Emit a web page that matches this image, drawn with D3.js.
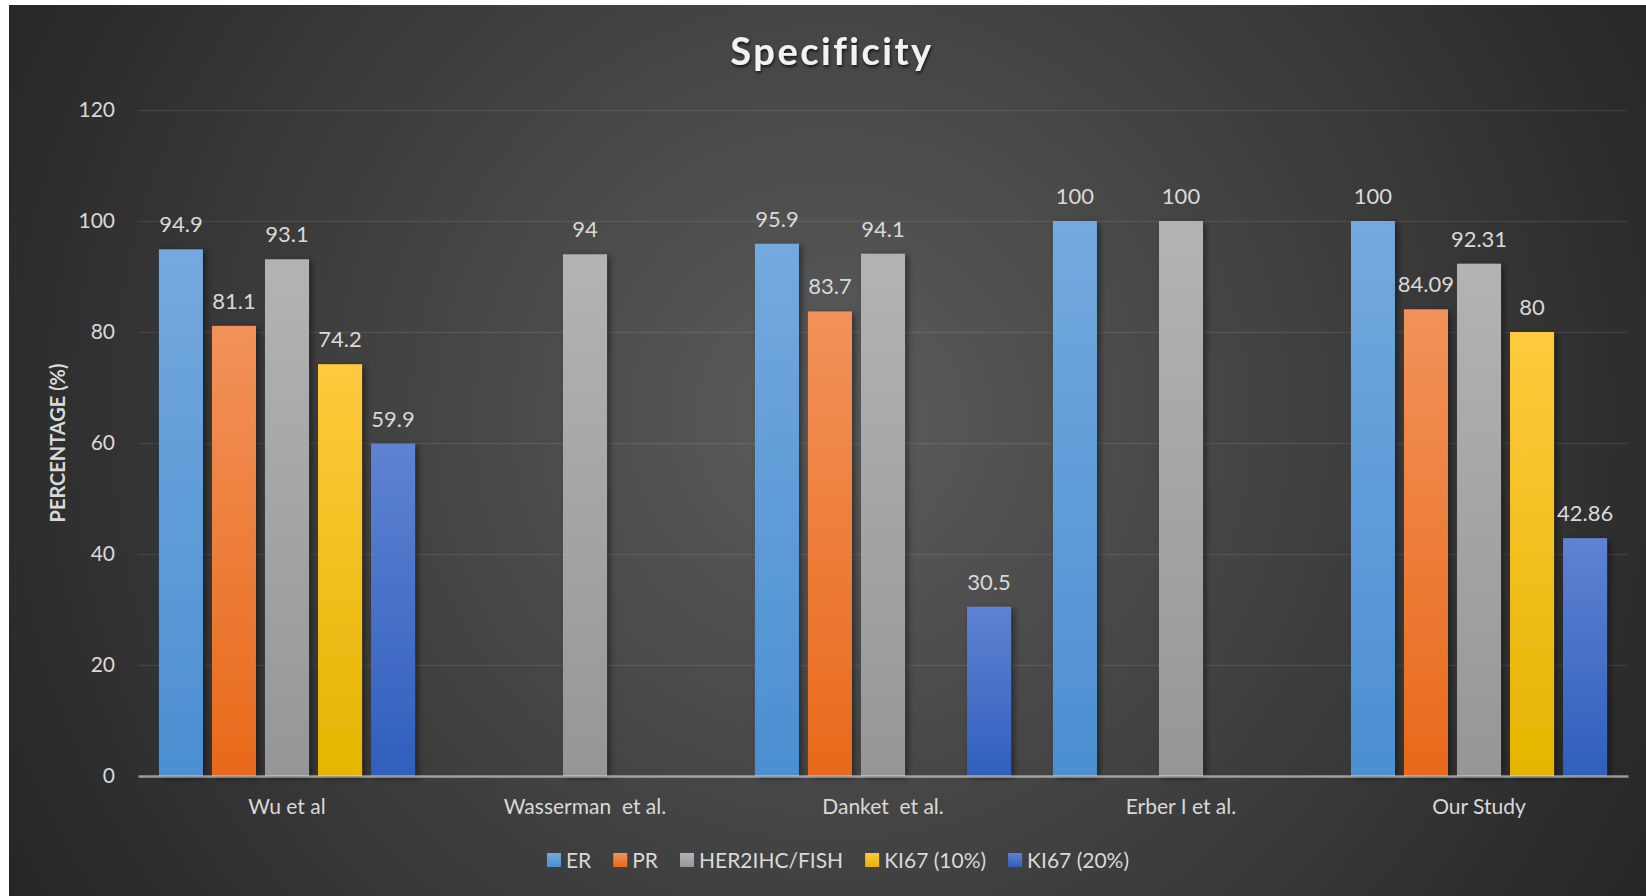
<!DOCTYPE html>
<html>
<head>
<meta charset="utf-8">
<script src="https://cdn.jsdelivr.net/npm/d3@7"></script>
<style>
  html, body { margin: 0; padding: 0; background: #ffffff; }
  svg { display: block; }
  text { font-family: Lato, "Open Sans", "Liberation Sans", sans-serif; }
</style>
</head>
<body>
<svg id="chart" width="1646" height="896"></svg>
<script>
// Study groups along the x axis
const categories = ["Wu et al", "Wasserman  et al.", "Danket  et al.", "Erber I et al.", "Our Study"];

// Marker series (legend order)
const seriesNames = ["ER", "PR", "HER2IHC/FISH", "KI67 (10%)", "KI67 (20%)"];

// Specificity values per series, one entry per study (null = not reported)
const erValues     = [94.9, null, 95.9, 100, 100];
const prValues     = [81.1, null, 83.7, null, 84.09];
const her2Values   = [93.1, 94, 94.1, 100, 92.31];
const ki67_10Values = [74.2, null, null, null, 80];
const ki67_20Values = [59.9, null, 30.5, null, 42.86];

const yTicks = [0, 20, 40, 60, 80, 100, 120];

const seriesValues = [erValues, prValues, her2Values, ki67_10Values, ki67_20Values];

// Gradient colours (top, bottom) for each series
const seriesColors = [
  ["#74a9de", "#4b8fd2"],
  ["#f2925a", "#e8691a"],
  ["#b3b3b3", "#969696"],
  ["#ffca3e", "#e5b500"],
  ["#5f82d2", "#2f5fbd"]
];

const W = 1646, H = 896;
const svg = d3.select("#chart");
const defs = svg.append("defs");

// Background: dark radial gradient panel
const bg = defs.append("radialGradient")
  .attr("id", "bgGrad").attr("gradientUnits", "userSpaceOnUse")
  .attr("cx", 830).attr("cy", 420).attr("r", 950);
bg.append("stop").attr("offset", 0).attr("stop-color", "#5c5c5c");
bg.append("stop").attr("offset", 1).attr("stop-color", "#252525");

seriesColors.forEach((c, i) => {
  const g = defs.append("linearGradient").attr("id", "barGrad" + i)
    .attr("x1", 0).attr("y1", 0).attr("x2", 0).attr("y2", 1);
  g.append("stop").attr("offset", 0).attr("stop-color", c[0]);
  g.append("stop").attr("offset", 1).attr("stop-color", c[1]);
});

const shadow = defs.append("filter").attr("id", "barShadow")
  .attr("x", "-30%").attr("y", "-10%").attr("width", "170%").attr("height", "130%");
shadow.append("feDropShadow").attr("dx", 3).attr("dy", 2).attr("stdDeviation", 3)
  .attr("flood-color", "#000").attr("flood-opacity", 0.45);

const titleShadow = defs.append("filter").attr("id", "titleShadow")
  .attr("x", "-10%").attr("y", "-30%").attr("width", "120%").attr("height", "160%");
titleShadow.append("feDropShadow").attr("dx", 1).attr("dy", 2).attr("stdDeviation", 1.5)
  .attr("flood-color", "#000").attr("flood-opacity", 0.7);

svg.append("rect").attr("x", 9).attr("y", 5).attr("width", W - 9).attr("height", H - 5)
  .attr("fill", "url(#bgGrad)");

// Plot area
const plot = { left: 138, right: 1628, top: 110, bottom: 776 };

const x0 = d3.scaleBand().domain(categories).range([plot.left, plot.right])
  .paddingInner(0).paddingOuter(0);
const x1 = d3.scaleBand().domain(d3.range(seriesNames.length)).range([0, x0.bandwidth()])
  .paddingInner(0.17).paddingOuter(0.395);
const y = d3.scaleLinear().domain([0, 120]).range([plot.bottom, plot.top]);

// Gridlines + y tick labels
const yAxis = d3.axisLeft(y).tickValues(yTicks).tickSize(-(plot.right - plot.left)).tickPadding(23);
const gy = svg.append("g").attr("transform", `translate(${plot.left},0)`).call(yAxis);
gy.select(".domain").remove();
gy.selectAll(".tick line").attr("stroke", "rgba(255,255,255,0.08)").attr("stroke-width", 1.5);
gy.selectAll(".tick text").attr("fill", "#d9d9d9").attr("font-size", 21)
  .style("font-family", "Lato, 'Open Sans', sans-serif");

// Bars
const rows = [];
categories.forEach((cat, ci) => {
  seriesValues.forEach((vals, si) => {
    if (vals[ci] != null) rows.push({ cat, si, v: vals[ci] });
  });
});

svg.append("g").selectAll("rect").data(rows).join("rect")
  .attr("x", d => x0(d.cat) + x1(d.si))
  .attr("y", d => y(d.v))
  .attr("width", x1.bandwidth())
  .attr("height", d => y(0) - y(d.v))
  .attr("fill", d => `url(#barGrad${d.si})`)
  .attr("filter", "url(#barShadow)");

// Value labels
svg.append("g").selectAll("text").data(rows).join("text")
  .attr("x", d => x0(d.cat) + x1(d.si) + x1.bandwidth() / 2)
  .attr("y", d => y(d.v) - 17)
  .attr("text-anchor", "middle")
  .attr("fill", "#d9d9d9").attr("font-size", 22)
  .text(d => String(d.v));

// Category axis
const xAxis = d3.axisBottom(x0).tickSize(0).tickPadding(23);
const gx = svg.append("g").attr("transform", `translate(0,${plot.bottom})`).call(xAxis);
gx.select(".domain").attr("stroke", "rgba(220,220,220,0.6)").attr("stroke-width", 2.5);
gx.selectAll(".tick text").attr("fill", "#d9d9d9").attr("font-size", 21)
  .style("font-family", "Lato, 'Open Sans', sans-serif").style("white-space", "pre");

// Title
svg.append("text").attr("x", 832).attr("y", 65).attr("text-anchor", "middle")
  .attr("fill", "#f2f2f2").attr("font-size", 38).attr("font-weight", "bold")
  .attr("letter-spacing", 2.5).attr("filter", "url(#titleShadow)")
  .text("Specificity");

// Y axis title
svg.append("text").attr("transform", `translate(65,443) rotate(-90)`)
  .attr("text-anchor", "middle").attr("fill", "#d9d9d9")
  .attr("font-size", 20).attr("font-weight", "bold")
  .text("PERCENTAGE (%)");

// Legend
const legend = svg.append("g");
let lx = 0;
const gap = 22;
seriesNames.forEach((name, i) => {
  const g = legend.append("g");
  g.append("rect").attr("x", 0).attr("y", -15).attr("width", 14).attr("height", 14)
    .attr("fill", `url(#barGrad${i})`);
  const t = g.append("text").attr("x", 19).attr("y", 0).attr("fill", "#d9d9d9")
    .attr("font-size", 21).text(name);
  const w = 19 + t.node().getComputedTextLength();
  g.attr("transform", `translate(${lx},0)`);
  lx += w + gap;
});
const legendWidth = lx - gap;
legend.attr("transform", `translate(${838 - legendWidth / 2},868)`);
</script>
</body>
</html>
